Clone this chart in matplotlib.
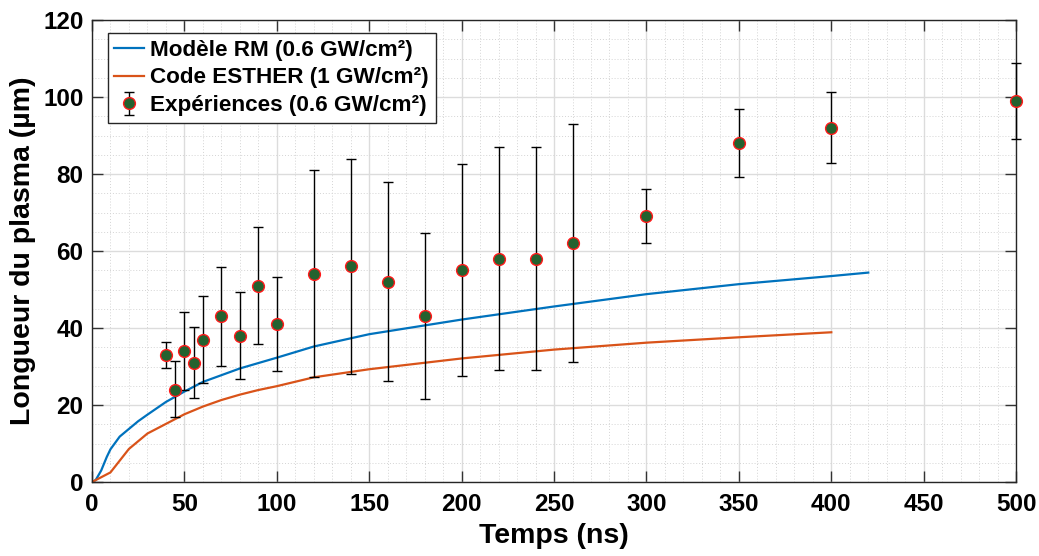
import numpy as np
import matplotlib.pyplot as plt
from matplotlib.ticker import MultipleLocator

# Modèle RM (0.6 GW/cm²)
t_rm = [0, 2, 5, 8, 10, 15, 20, 25, 30, 40, 50, 60, 80, 100, 120, 150,
        200, 250, 300, 350, 400, 420]
l_rm = [0, 0.5, 3.0, 6.5, 8.5, 11.8, 13.8, 15.8, 17.5, 20.8, 23.5, 26.0,
        29.5, 32.3, 35.2, 38.4, 42.2, 45.6, 48.8, 51.4, 53.5, 54.4]

# Code ESTHER (1 GW/cm²)
t_esther = [0, 10, 20, 30, 40, 50, 60, 70, 80, 90, 100, 120, 150, 200,
            250, 300, 350, 400]
l_esther = [0, 2.5, 8.6, 12.6, 15.1, 17.6, 19.6, 21.3, 22.7, 23.9, 24.9,
            27.2, 29.3, 32.1, 34.4, 36.2, 37.6, 38.9]

# Expériences (0.6 GW/cm²)
t_exp = [40, 45, 50, 55, 60, 70, 80, 90, 100, 120, 140, 160, 180, 200,
         220, 240, 260, 300, 350, 400, 500]
l_exp = [33, 24, 34, 31, 37, 43, 38, 51, 41, 54, 56, 52, 43, 55,
         58, 58, 62, 69, 88, 92, 99]
l_low = [29.6, 17.0, 23.9, 21.8, 25.8, 30.2, 26.8, 35.9, 28.9, 27.2, 28.0,
         26.2, 21.7, 27.6, 29.2, 29.2, 31.2, 62.2, 79.2, 82.9, 89.2]
l_high = [36.5, 31.4, 44.2, 40.3, 48.2, 55.9, 49.4, 66.3, 53.3, 81.0, 84.0,
          78.0, 64.6, 82.5, 87.0, 87.0, 93.1, 76.0, 96.8, 101.2, 108.9]

plt.rcParams['font.family'] = ['Liberation Sans', 'DejaVu Sans']
plt.rcParams['font.weight'] = 'bold'

fig = plt.figure(figsize=(10.39, 5.56), dpi=100)
ax = fig.add_axes([0.0885, 0.133, 0.8895, 0.831])

ax.plot(t_rm, l_rm, color='#0072BD', lw=1.6, label='Modèle RM (0.6 GW/cm²)')
ax.plot(t_esther, l_esther, color='#D95319', lw=1.6,
        label='Code ESTHER (1 GW/cm²)')

yerr = [np.array(l_exp) - np.array(l_low), np.array(l_high) - np.array(l_exp)]
eb = ax.errorbar(t_exp, l_exp, yerr=yerr, fmt='o', color='black',
                 ecolor='black', elinewidth=1.0, capsize=3.5, capthick=1.0,
                 markersize=8.5, markerfacecolor='#24622f',
                 markeredgecolor='#ff1a1a', markeredgewidth=1.0,
                 label='Expériences (0.6 GW/cm²)', zorder=3)
for art in eb.get_children():
    art.set_clip_on(False)

ax.set_xlim(0, 500)
ax.set_ylim(0, 120)
ax.xaxis.set_major_locator(MultipleLocator(50))
ax.xaxis.set_minor_locator(MultipleLocator(10))
ax.yaxis.set_major_locator(MultipleLocator(20))
ax.yaxis.set_minor_locator(MultipleLocator(5))

ax.grid(True, which='major', color='#dcdcdc', lw=1.0)
ax.grid(True, which='minor', color='#d4d4d4', lw=0.7, ls=(0, (1, 2)))
ax.set_axisbelow(True)

ax.tick_params(which='both', direction='in', top=True, right=True,
               color='#333333')
ax.tick_params(which='major', length=8, width=1.0, labelsize=17.5, pad=6)
ax.tick_params(axis='x', which='major', pad=8)
ax.tick_params(which='minor', length=0)
for lbl in ax.get_xticklabels() + ax.get_yticklabels():
    lbl.set_fontweight('bold')
for s in ax.spines.values():
    s.set_color('#262626')
    s.set_linewidth(1.0)

ax.set_xlabel('Temps (ns)', fontsize=20.5, fontweight='bold', labelpad=5)
ax.set_ylabel('Longueur du plasma (µm)', fontsize=20.5, fontweight='bold',
              labelpad=5)

leg = ax.legend(loc='upper left', bbox_to_anchor=(0.017, 0.972),
                prop={'weight': 'bold', 'size': 16.2},
                handlelength=1.3, handletextpad=0.3, borderpad=0.3,
                labelspacing=0.3, borderaxespad=0, fancybox=False,
                framealpha=1, edgecolor='#262626')
leg.get_frame().set_linewidth(1.0)

fig.savefig('out.png', dpi=100)
